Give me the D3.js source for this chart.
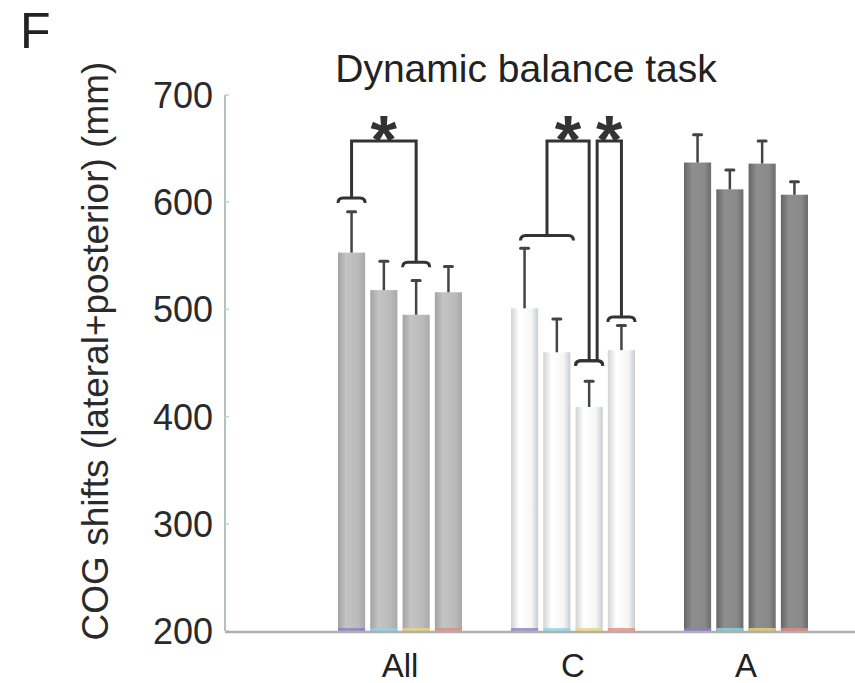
<!DOCTYPE html>
<html>
<head>
<meta charset="utf-8">
<script src="https://cdn.jsdelivr.net/npm/d3@7"></script>
<style>
  body { margin: 0; background: #fff; }
  svg { display: block; font-family: "Liberation Sans", Arial, sans-serif; }
</style>
</head>
<body>
<script>
// data
const groups = ["All", "C", "A"];
const conditions = [0, 1, 2, 3];
const meanAll = [553, 518, 495, 516];
const meanC = [501, 460, 409, 462];
const meanA = [637, 612, 636, 607];
const errAll = [591, 545, 527, 540];
const errC = [557, 491, 433, 485];
const errA = [663, 630, 657, 619];
const yTicks = [200, 300, 400, 500, 600, 700];
// significance brackets: group, left bars, right bars, arm heights, top level
const brackets = [
  { group: "All", left: [0], right: [2], leftY: 604, rightY: 544, top: 657 },
  { group: "C", left: [0, 1], right: [2], leftY: 569, rightY: 452, top: 657 },
  { group: "C", left: [2], right: [3], leftY: 452, rightY: 493, top: 657, shift: 8 }
];

const means = { All: meanAll, C: meanC, A: meanA };
const errs = { All: errAll, C: errC, A: errA };
const stripeColors = ["#8b7fc4", "#8fd3e3", "#e9d878", "#e28c82"];

const width = 855, height = 683;
const svg = d3.select("body").append("svg")
  .attr("width", width).attr("height", height);

const x0 = d3.scaleBand().domain(groups).range([313.5, 832.5]);
const x1 = d3.scaleBand().domain(conditions).range([-62, 62]).paddingInner(0.16);
const y = d3.scaleLinear().domain([200, 700]).range([631, 95]);

const barX = (g, i) => x0(g) + x0.bandwidth() / 2 + x1(i);
const barC = (g, i) => barX(g, i) + x1.bandwidth() / 2;

// gradients for the three bar styles
const defs = svg.append("defs");
const grads = {
  All: ["#a2a2a2", "#c4c4c4", "#bababa", "#a8a8a8"],
  C: ["#cfd3d6", "#ffffff", "#f6f6f6", "#c9cdd0"],
  A: ["#666", "#8e8e8e", "#8a8a8a", "#6c6c6c"]
};
Object.entries(grads).forEach(([k, c]) => {
  const g = defs.append("linearGradient").attr("id", "g" + k)
    .attr("x1", 0).attr("x2", 1).attr("y1", 0).attr("y2", 0);
  [0, 0.3, 0.75, 1].forEach((o, i) => g.append("stop").attr("offset", o).attr("stop-color", c[i]));
});

// title and panel letter
svg.append("text").attr("x", 20).attr("y", 48).attr("font-size", 50).attr("fill", "#222").text("F");
svg.append("text").attr("x", 526).attr("y", 82).attr("text-anchor", "middle")
  .attr("font-size", 39).attr("fill", "#222").text("Dynamic balance task");

// y axis
svg.append("line").attr("x1", 225).attr("x2", 225).attr("y1", y(700)).attr("y2", y(200))
  .attr("stroke", "#b3c0c6").attr("stroke-width", 2);
svg.selectAll(".ytick").data(yTicks).enter().append("line")
  .attr("x1", 225).attr("x2", 229).attr("y1", d => y(d)).attr("y2", d => y(d))
  .attr("stroke", "#c5ced2").attr("stroke-width", 1.5);
svg.selectAll(".ylab").data(yTicks).enter().append("text")
  .attr("x", 213).attr("y", d => y(d)).attr("dy", "0.36em")
  .attr("text-anchor", "end").attr("font-size", 36).attr("fill", "#2a2a2a").text(d => d);
svg.append("text")
  .attr("transform", "translate(108,351) rotate(-90)")
  .attr("text-anchor", "middle").attr("font-size", 37).attr("fill", "#2a2a2a")
  .text("COG shifts (lateral+posterior) (mm)");

// bars
const bars = groups.flatMap(g => conditions.map(i => ({ g, i, v: means[g][i], e: errs[g][i] })));
svg.selectAll(".bar").data(bars).enter().append("rect")
  .attr("x", d => barX(d.g, d.i)).attr("width", x1.bandwidth())
  .attr("y", d => y(d.v)).attr("height", d => y(200) - y(d.v))
  .attr("fill", d => `url(#g${d.g})`);
svg.selectAll(".stripe").data(bars).enter().append("rect")
  .attr("x", d => barX(d.g, d.i)).attr("width", x1.bandwidth())
  .attr("y", y(200) - 3).attr("height", 3)
  .attr("fill", d => stripeColors[d.i]).attr("opacity", 0.8);

// baseline
svg.append("line").attr("x1", 225).attr("x2", width).attr("y1", y(200) + 1).attr("y2", y(200) + 1)
  .attr("stroke", "#b0b0b0").attr("stroke-width", 2.5);

// error bars
svg.selectAll(".err").data(bars).enter().append("line")
  .attr("x1", d => barC(d.g, d.i)).attr("x2", d => barC(d.g, d.i))
  .attr("y1", d => y(d.v)).attr("y2", d => y(d.e))
  .attr("stroke", "#444").attr("stroke-width", 2.5);
svg.selectAll(".cap").data(bars).enter().append("line")
  .attr("x1", d => barC(d.g, d.i) - 4).attr("x2", d => barC(d.g, d.i) + 4)
  .attr("y1", d => y(d.e)).attr("y2", d => y(d.e))
  .attr("stroke", "#444").attr("stroke-width", 3).attr("stroke-linecap", "round");

// significance brackets
function arm(g, idx, val) {
  const l = barX(g, idx[0]) + (idx.length > 1 ? x1.bandwidth() / 2 - 4 : 0);
  const r = barX(g, idx[idx.length - 1]) + x1.bandwidth() + (idx.length > 1 ? 3 : 0);
  const yy = y(val);
  svg.append("path")
    .attr("d", `M${l},${yy + 5} Q${l},${yy} ${l + 5},${yy} L${r - 5},${yy} Q${r},${yy} ${r},${yy + 5}`)
    .attr("fill", "none").attr("stroke", "#333").attr("stroke-width", 3);
  return (l + r) / 2;
}
brackets.forEach(b => {
  const lx = arm(b.group, b.left, b.leftY) + (b.shift || 0);
  const rx = arm(b.group, b.right, b.rightY);
  const ty = y(b.top);
  svg.append("path")
    .attr("d", `M${lx},${y(b.leftY)} L${lx},${ty} L${rx},${ty} L${rx},${y(b.rightY)}`)
    .attr("fill", "none").attr("stroke", "#333").attr("stroke-width", 3);
  svg.append("text").attr("x", (lx + rx) / 2).attr("y", ty + 22)
    .attr("text-anchor", "middle").attr("font-size", 68).attr("font-weight", "bold")
    .attr("fill", "#333").text("*");
});

// group labels
svg.selectAll(".xlab").data(groups).enter().append("text")
  .attr("x", d => x0(d) + x0.bandwidth() / 2).attr("y", 677)
  .attr("text-anchor", "middle").attr("font-size", 33).attr("fill", "#222").text(d => d);
</script>
</body>
</html>
